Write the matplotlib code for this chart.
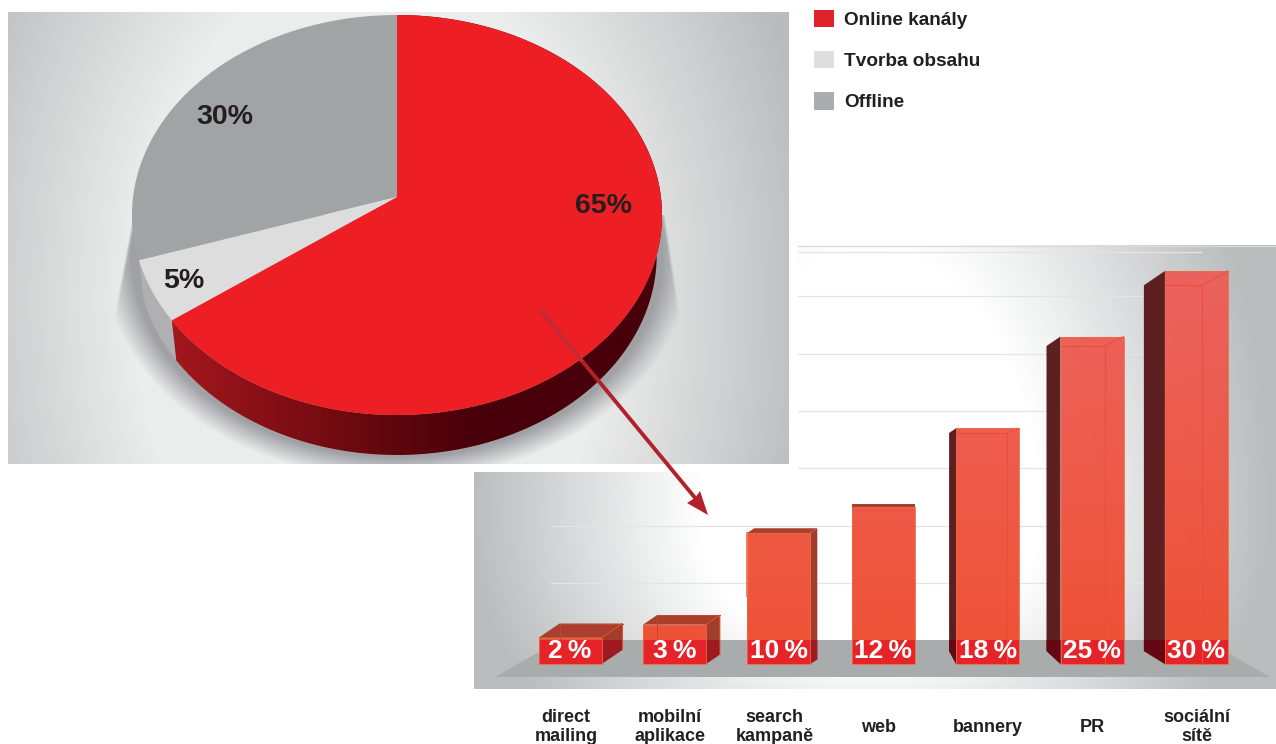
import matplotlib
matplotlib.use("Agg")
import matplotlib.pyplot as plt
import numpy as np
from matplotlib.colors import LinearSegmentedColormap, to_rgb
from matplotlib.patches import Patch, Polygon
from matplotlib.path import Path

plt.rcParams["font.family"] = ["Liberation Sans", "DejaVu Sans"]
plt.rcParams["font.weight"] = "bold"

pie_labels = ["Online kanály", "Tvorba obsahu", "Offline"]
pie_shares = [65, 5, 30]
categories = ["direct\nmailing", "mobilní\naplikace", "search\nkampaně", "web",
              "bannery", "PR", "sociální\nsítě"]
online_shares = [2, 3, 10, 12, 18, 25, 30]
grid_levels = [6.2, 10.5, 15.0, 19.3, 23.7, 28.1, 31.45]

W, H = 1276, 744
DARK = "#231f20"
fig = plt.figure(figsize=(W / 100, H / 100), dpi=100)
fig.patch.set_facecolor("white")


def px_axes(x0, y0, x1, y1, zorder):
    ax = fig.add_axes([x0 / W, 1 - y1 / H, (x1 - x0) / W, (y1 - y0) / H], zorder=zorder)
    ax.axis("off")
    return ax


def radial(x0, y0, x1, y1, cx, cy, up, down, d0, d1, light, dark):
    # light plateau around (cx, cy) going to dark further out
    xx, yy = np.meshgrid(np.arange(x0, x1) + .5, np.arange(y0, y1) + .5)
    d = np.hypot(xx - cx, (yy - cy) * np.where(yy < cy, up, down))
    t = np.clip((d - d0) / (d1 - d0), 0, 1)[..., None]
    return (1 - t) * np.array(to_rgb(light)) + t * np.array(to_rgb(dark))


# backdrop panels, in pixel coordinates
bg = px_axes(0, 0, W, H, 0)
bg.set_xlim(0, W)
bg.set_ylim(H, 0)
bg.imshow(radial(8, 12, 789, 464, 370, 300, .7, .7, 240, 450, "#ebedec", "#b9bcbd"),
          extent=(8, 789, 464, 12), aspect="auto", interpolation="bilinear")

panel2 = Path([(798, 245), (1276, 245), (1276, 689), (474, 689), (474, 472), (798, 472), (798, 245)])
im = bg.imshow(radial(474, 245, 1276, 689, 870, 520, 1 / 1.6, 1.25, 170, 400, "#ffffff", "#b9bdbe"),
               extent=(474, 1276, 689, 245), aspect="auto", interpolation="bilinear")
im.set_clip_path(panel2, bg.transData)
bg.plot([798, 1276], [245.5, 245.5], color="#d9dbdb", lw=.9)

# soft shadow beneath the pie, cut off by the two slanted edges
xx, yy = np.meshgrid(np.arange(8, 789) + .5, np.arange(12, 464) + .5)
r = np.hypot((xx - 397) / 295, (yy - 255) / 225)
soft = np.clip((1 - r) / .1, 0, 1)
right_edge = 663 + (yy - 200) * .152
left_edge = 133 - (yy - 215) * .19
mask = np.clip((right_edge - xx) / 3, 0, 1) * np.clip((xx - left_edge) / 3, 0, 1) * (yy > 215)
shadow = np.zeros(xx.shape + (4,))
shadow[..., :3] = to_rgb("#9c9da1")
shadow[..., 3] = soft * mask * .95
bg.imshow(shadow, extent=(8, 789, 464, 12), aspect="auto", interpolation="bilinear")
bg.set_xlim(0, W)
bg.set_ylim(H, 0)

# pie: the unit circle is the rim, the wedge apex sits off centre
PX, PY = 265.0, 200.0
pie_cx, pie_cy = 397, 215
ax_pie = px_axes(8, 12, 789, 464, 1)
pie_xlim = ((8 - pie_cx) / PX, (789 - pie_cx) / PX)
pie_ylim = ((pie_cy - 464) / PY, (pie_cy - 12) / PY)
apex = np.array([0, (pie_cy - 197) / PY])
wall = 40 / PY


def rim(start, stop):
    angles = np.radians(np.linspace(start, stop, 200))
    d = np.column_stack([np.sin(angles), np.cos(angles)])
    b = d @ apex
    t = -b + np.sqrt(b ** 2 - (apex @ apex - 1))
    return apex + t[:, None] * d


edges = np.cumsum([0] + pie_shares) * 3.6
tops = ["#ed1f24", "#dcdddc", "#a1a4a5"]
walls = [None, "#aeb0b1", None]

for i in (1, 0):
    pts = rim(edges[i], edges[i + 1])
    lower = pts[::-1] * [.98, 1] - [0, wall]
    side = np.vstack([pts, lower])
    if walls[i]:
        ax_pie.fill(side[:, 0], side[:, 1], color=walls[i], lw=0, zorder=1)
    else:
        cmap = LinearSegmentedColormap.from_list(
            "wall", [(0, "#a3171d"), (.35, "#6d0a10"), (.6, "#48000a"), (1, "#48000a")])
        g = np.linspace(0, 1, 512)[None, :]
        img = ax_pie.imshow(g, cmap=cmap, extent=(-.85, 1.05, -1.3, 1), aspect="auto", zorder=1)
        img.set_clip_path(Polygon(side, transform=ax_pie.transData))
for i in (2, 1, 0):
    top = np.vstack([apex, rim(edges[i], edges[i + 1])])
    ax_pie.fill(top[:, 0], top[:, 1], color=tops[i], lw=0, zorder=2)
ax_pie.set_xlim(pie_xlim)
ax_pie.set_ylim(pie_ylim)

for txt, px, py in [("65%", 604, 206), ("5%", 184, 281), ("30%", 225, 117)]:
    ax_pie.text((px - pie_cx) / PX, (pie_cy - py) / PY, txt, ha="center", va="center",
                fontsize=20.5, color=DARK, zorder=3)

# bar panel: x in categories, y in percent
PER_CAT, PER_PCT = 104.4, 13.1
bar_x0 = 570
ax_bar = px_axes(474, 245, 1276, 689, 2)
bar_xlim = ((474 - bar_x0) / PER_CAT, (1276 - bar_x0) / PER_CAT)
bar_ylim = ((664 - 689) / PER_PCT, (664 - 245) / PER_PCT)
x = np.arange(len(categories))
bar_w = 63 / PER_CAT
floor_top = (664 - 640) / PER_PCT


def ux(px):
    return px / PER_CAT


def uy(px):
    return px / PER_PCT


floor_y0, floor_y1 = (664 - 677) / PER_PCT, floor_top
floor = [(ux(495 - bar_x0), floor_y0), (ux(1270 - bar_x0), floor_y0),
         (ux(1205 - bar_x0), floor_y1), (ux(560 - bar_x0), floor_y1)]
ax_bar.add_patch(Polygon(floor, color="#a9acad", lw=0, zorder=2))

hl = ax_bar.hlines(grid_levels, ux(550 - bar_x0), ux(1202 - bar_x0), color="#e3e4e4", lw=.9, zorder=1)
hl.set_clip_path(panel2, bg.transData)

grad = LinearSegmentedColormap.from_list("front", ["#ef4c2e", "#ec615e"])
bars = ax_bar.bar(x, online_shares, width=bar_w, facecolor="none", edgecolor="#f0683f", lw=.6, zorder=6)
for i, (bar, v) in enumerate(zip(bars, online_shares)):
    x0, x1 = bar.get_x(), bar.get_x() + bar.get_width()
    depth = abs(i - 3) * 7
    rise = depth * .68 if i != 3 else 2.5
    dx, dy = ux(depth), uy(rise)
    low = min(v, floor_top)
    if i <= 3:
        # side and top recede up and to the right
        ax_bar.add_patch(Polygon([(x1, 0), (x1 + dx, dy), (x1 + dx, v + dy), (x1, v)],
                                 color="#a23c2b", lw=0, zorder=4))
        ax_bar.add_patch(Polygon([(x1, 0), (x1 + dx, dy), (x1 + dx, max(low, dy)), (x1, low)],
                                 color="#9c1a20", lw=0, zorder=4))
        ax_bar.add_patch(Polygon([(x0, v), (x0 + dx, v + dy), (x1 + dx, v + dy), (x1, v)],
                                 color="#ab3f2d", lw=0, zorder=4))
    else:
        # dark left side, inner box outline shows through the front
        foot = uy(13)
        ax_bar.add_patch(Polygon([(x0 - dx, v - dy), (x0, v), (x0, 0), (x0 - dx, foot)],
                                 color="#5e1f20", lw=0, zorder=4))
        ax_bar.add_patch(Polygon([(x0 - dx, low), (x0, low), (x0, 0), (x0 - dx, foot)],
                                 color="#660813", lw=0, zorder=4))
    img = ax_bar.imshow(np.linspace(0, 1, 128)[:, None], cmap=grad, origin="lower",
                        extent=(x0, x1, 0, 32), aspect="auto", zorder=5, alpha=.97)
    img.set_clip_path(bar)
    ax_bar.add_patch(Polygon([(x0, 0), (x1, 0), (x1, low), (x0, low)], color="#e52329", lw=0, zorder=5.5))
    if i > 3:
        inner = x1 - ux(depth + 5)
        ax_bar.plot([x0, inner, inner], [v - dy, v - dy, 0], color="#f04a3a", lw=.7, zorder=6)
        ax_bar.plot([inner, x1], [v - dy, v], color="#f04a3a", lw=.7, zorder=6)
    elif i < 2:
        ax_bar.plot([x0 + dx, x0 + dx, x1 + dx], [max(low, dy), v + dy, v + dy], color="#c4452f", lw=.7, zorder=6)
        ax_bar.plot([x1, x1 + dx, x1 + dx], [v, v + dy, dy], color="#d9512f", lw=.7, zorder=6)
    elif i == 2:
        ax_bar.plot([x0, x0], [v, uy(664 - 596)], color="#ec7f50", lw=1.4, zorder=6)
    ax_bar.text(i, uy(13), f"{v}\u2009%", ha="center", va="center", color="white",
                fontsize=19, zorder=7)
    ax_bar.text(i - (.04 if i <= 3 else 0), uy(664 - 727), categories[i], ha="center", va="center",
                color=DARK, fontsize=13, linespacing=1.2, zorder=7, clip_on=False)
ax_bar.set_xlim(bar_xlim)
ax_bar.set_ylim(bar_ylim)

# arrow from the red slice to the breakdown
over = px_axes(0, 0, W, H, 3)
over.set_xlim(0, W)
over.set_ylim(H, 0)
over.plot([541, 583], [311, 362], color="#c22a34", lw=2.8, solid_capstyle="butt")
over.plot([583, 696], [362, 499], color="#b3202c", lw=2.8, solid_capstyle="butt")
over.add_patch(Polygon([(708, 515), (687, 503), (695, 498), (700, 491)], color="#b3202c", lw=0))

handles = [Patch(color=c, lw=0) for c in ("#e0232a", "#dcdedf", "#a9adaf")]
fig.legend(handles, pie_labels, loc="upper left", bbox_to_anchor=(806 / W, 1 - 2 / H), frameon=False,
           fontsize=13.7, handlelength=1.05, handleheight=1.05, handletextpad=.55,
           labelspacing=1.15, borderpad=.4, borderaxespad=0, labelcolor=DARK)

fig.savefig("out.png", dpi=100)
